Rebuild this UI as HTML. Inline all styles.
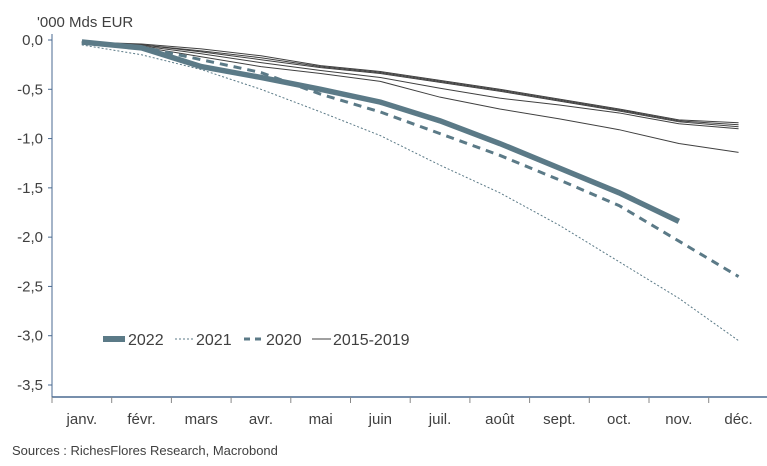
<!DOCTYPE html>
<html><head><meta charset="utf-8"><style>
body{margin:0;background:#fff;font-family:"Liberation Sans",sans-serif;}
svg text{font-family:"Liberation Sans",sans-serif;fill:#404040;}
</style></head><body>
<svg width="767" height="461" xmlns="http://www.w3.org/2000/svg">
<text x="37" y="27" font-size="15">'000 Mds EUR</text>
<g id="yaxis"></g>
<g id="xaxis"></g>
<g id="series"></g>
<g>
<g><line x1="103" y1="339" x2="125" y2="339" stroke="#5b7a87" stroke-width="6"/><text x="128" y="345" font-size="16">2022</text></g>
<g><line x1="175" y1="339" x2="195" y2="339" stroke="#5b7a87" stroke-width="1" stroke-dasharray="2,2"/><text x="196" y="345" font-size="16">2021</text></g>
<g><line x1="244" y1="339" x2="264" y2="339" stroke="#5b7a87" stroke-width="3" stroke-dasharray="6,5"/><text x="266" y="345" font-size="16">2020</text></g>
<g><line x1="312" y1="339" x2="331" y2="339" stroke="#404040" stroke-width="1"/><text x="333" y="345" font-size="16">2015-2019</text></g>
</g>
<text x="12" y="455" font-size="13">Sources : RichesFlores Research, Macrobond</text>
</svg>
<script>
const months=["janv.","févr.","mars","avr.","mai","juin","juil.","août","sept.","oct.","nov.","déc."];
const yTicks=[0,-0.5,-1,-1.5,-2,-2.5,-3,-3.5];
const s2022=[-0.02,-0.08,-0.27,-0.38,-0.5,-0.63,-0.82,-1.05,-1.3,-1.55,-1.84];
const s2021=[-0.05,-0.15,-0.3,-0.5,-0.73,-0.97,-1.27,-1.55,-1.88,-2.25,-2.62,-3.05];
const s2020=[-0.02,-0.07,-0.2,-0.33,-0.55,-0.73,-0.95,-1.17,-1.42,-1.68,-2.04,-2.4];
const s2015=[-0.02,-0.04,-0.09,-0.16,-0.26,-0.32,-0.41,-0.5,-0.6,-0.7,-0.81,-0.84];
const s2016=[-0.02,-0.05,-0.11,-0.18,-0.27,-0.33,-0.42,-0.51,-0.61,-0.71,-0.82,-0.86];
const s2017=[-0.02,-0.05,-0.12,-0.2,-0.28,-0.34,-0.43,-0.52,-0.62,-0.72,-0.83,-0.88];
const s2018=[-0.02,-0.06,-0.14,-0.23,-0.31,-0.38,-0.49,-0.59,-0.66,-0.74,-0.85,-0.9];
const s2019=[-0.02,-0.07,-0.17,-0.27,-0.34,-0.42,-0.58,-0.7,-0.8,-0.91,-1.05,-1.14];
const NS="http://www.w3.org/2000/svg";
const L=52,B=397,step=59.7;
const x=i=>L+step*(i+0.5);
const y=v=>40+(-v)*(345/3.5);
function mk(t,p,a){const e=document.createElementNS(NS,t);for(const k in a)e.setAttribute(k,a[k]);p.appendChild(e);return e;}
const ya=document.getElementById('yaxis'),xa=document.getElementById('xaxis'),sg=document.getElementById('series');
mk('line',ya,{x1:L,y1:34,x2:L,y2:B,stroke:'#4a6a90','stroke-width':1});
yTicks.forEach(v=>{
 mk('line',ya,{x1:L-4,y1:y(v),x2:L,y2:y(v),stroke:'#4a6a90'});
 const t=mk('text',ya,{x:L-9,y:y(v)+5,'font-size':15,'text-anchor':'end'});
 t.textContent=v.toFixed(1).replace('.',',');
 
 
});
mk('line',xa,{x1:L,y1:B,x2:767,y2:B,stroke:'#4a6a90','stroke-width':1.5});
months.forEach((m,i)=>{
 mk('line',xa,{x1:L+step*i,y1:B,x2:L+step*i,y2:B+6,stroke:'#888'});
 const t=mk('text',xa,{x:x(i),y:424,'font-size':15,'text-anchor':'middle'});
 t.textContent=m;
 
 
});
function line(d,attrs,name){
 const p=mk('polyline',sg,Object.assign({fill:'none',points:d.map((v,i)=>x(i)+','+y(v)).join(' ')},attrs));
 
 
}
[s2015,s2016,s2017,s2018,s2019].forEach((d,k)=>line(d,{stroke:'#404040','stroke-width':1},'line-'+(2015+k)));
line(s2021,{stroke:'#5b7a87','stroke-width':1,'stroke-dasharray':'2,2'},'line-2021');
line(s2020,{stroke:'#5b7a87','stroke-width':3,'stroke-dasharray':'8,6'},'line-2020');
line(s2022,{stroke:'#5b7a87','stroke-width':5.5},'line-2022');
</script>
</body></html>
